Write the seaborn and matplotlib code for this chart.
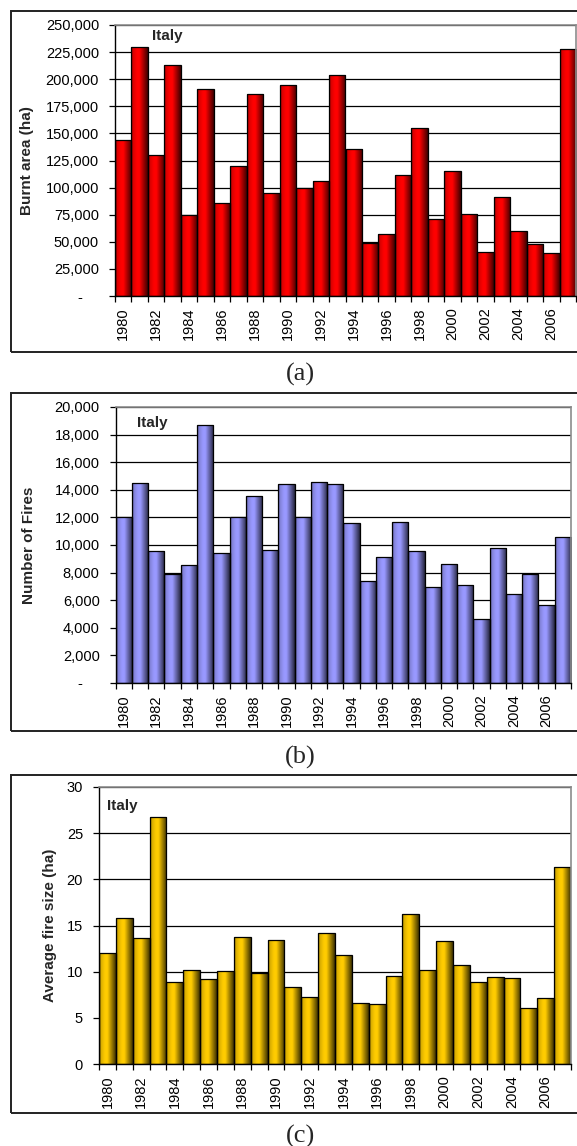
import numpy as np
import pandas as pd
import matplotlib
matplotlib.use("Agg")
import matplotlib.pyplot as plt
import matplotlib.ticker as mticker
from matplotlib.patches import Rectangle
from matplotlib.colors import to_rgb
import seaborn as sns

# ---------------- data ----------------
years = list(range(1980, 2008))
burnt_area = [144000, 229700, 130400, 212800, 74400, 190600, 85800, 120200,
              186000, 94700, 195000, 99600, 105800, 204200, 135900, 48900,
              57500, 111600, 155000, 71000, 115000, 75300, 40900, 91000,
              60000, 47700, 39700, 227900]
num_fires = [12000, 14500, 9570, 7930, 8530, 18670, 9420, 12000,
             13540, 9640, 14430, 12020, 14600, 14430, 11570, 7400,
             9130, 11660, 9570, 6960, 8630, 7130, 4650, 9760,
             6460, 7930, 5660, 10600]
avg_size = [12.06, 15.85, 13.6, 26.7, 8.93, 10.2, 9.18, 10.1,
            13.76, 9.83, 13.47, 8.39, 7.24, 14.15, 11.78, 6.66,
            6.45, 9.58, 16.24, 10.2, 13.36, 10.73, 8.9, 9.44,
            9.29, 6.05, 7.13, 21.36]
tick_years = [str(y) for y in years[::2]]

panels = [
    dict(values=burnt_area, color="#FF0000", ylabel="Burnt area (ha)",
         ymax=250000, ystep=25000, dash=True, tag="(a)",
         rect=[115/577, 1-296/1146, 461/577, 271/1146],
         frame=(11, 352), tagy=374, italy=(0.08, 0.96), labx=-0.19),
    dict(values=num_fires, color="#9999FF", ylabel="Number of Fires",
         ymax=20000, ystep=2000, dash=True, tag="(b)",
         rect=[115.7/577, 1-683/1146, 455.3/577, 276/1146],
         frame=(393, 731), tagy=757, italy=(0.047, 0.942), labx=-0.19),
    dict(values=avg_size, color="#FFCC00", ylabel="Average fire size (ha)",
         ymax=30, ystep=5, dash=False, tag="(c)",
         rect=[99/577, 1-1064/1146, 472/577, 277/1146],
         frame=(775, 1113), tagy=1136, italy=(0.017, 0.931), labx=-0.104),
]

sns.set_style("white")
plt.rcParams["font.family"] = ["Liberation Sans", "DejaVu Sans"]

W, H = 577, 1146
fig = plt.figure(figsize=(W/100, H/100), dpi=100)


def gradient_for(color):
    base = np.array(to_rgb(color))
    t = np.linspace(0, 1, 64)
    prof = np.interp(t, [0, 0.12, 0.35, 0.5, 0.8, 1.0],
                     [0.55, 0.85, 1.0, 1.0, 0.55, 0.25])
    img = np.clip(base[None, :] * prof[:, None], 0, 1)
    return img[None, :, :]


for p in panels:
    # outer frame
    top, bot = p["frame"]
    fig.patches.append(Rectangle((11/W, 1-bot/H), 1.2, (bot-top)/H,
                                 transform=fig.transFigure, fill=False,
                                 edgecolor="#222222", linewidth=1.4,
                                 zorder=0))
    ax = fig.add_axes(p["rect"])
    df = pd.DataFrame({"year": [str(y) for y in years], "value": p["values"]})
    sns.barplot(data=df, x="year", y="value", color=p["color"], saturation=1,
                width=1.0, edgecolor="black", linewidth=0.9, ax=ax)
    ax.set_xlim(-0.5, len(years)-0.5)
    ax.set_ylim(0, p["ymax"])

    grad = gradient_for(p["color"])
    for patch in list(ax.patches):
        x0, y0 = patch.get_x(), patch.get_y()
        w, h = patch.get_width(), patch.get_height()
        patch.set_facecolor("none")
        patch.set_zorder(1.2)
        im = ax.imshow(grad, extent=[x0, x0+w, y0, y0+h], aspect="auto",
                       interpolation="bilinear", zorder=1.0)
        im.set_clip_path(patch)
    ax.set_xlim(-0.5, len(years)-0.5)
    ax.set_ylim(0, p["ymax"])
    ax.set_aspect("auto")

    # y axis
    yt = np.arange(0, p["ymax"] + p["ystep"]/2, p["ystep"])
    ax.yaxis.set_major_locator(mticker.FixedLocator(yt))
    if p["dash"]:
        ax.yaxis.set_major_formatter(mticker.FuncFormatter(
            lambda v, pos: "-    " if v == 0 else f"{v:,.0f}"))
    else:
        ax.yaxis.set_major_formatter(mticker.FuncFormatter(
            lambda v, pos: f"{v:.0f}"))
    ax.grid(axis="y", color="black", linewidth=0.9)
    ax.set_axisbelow(True)

    # x axis: labels at bar centres, tick marks at boundaries
    ax.xaxis.set_major_locator(mticker.FixedLocator(np.arange(0, len(years), 2)))
    ax.set_xticklabels(tick_years, rotation=90)
    ax.xaxis.set_minor_locator(mticker.FixedLocator(np.arange(-0.5, len(years), 1)))
    ax.tick_params(axis="x", which="major", length=0, pad=8, labelsize=10.5,
                   colors="black")
    ax.tick_params(axis="x", which="minor", length=4, width=0.9,
                   direction="out", color="black", bottom=True)
    ax.tick_params(axis="y", which="major", length=4, width=0.9, pad=7.5,
                   direction="out", left=True, labelsize=10.5, colors="black")

    for side in ("left", "bottom"):
        ax.spines[side].set_color("black")
        ax.spines[side].set_linewidth(1.0)
    for side in ("top", "right"):
        ax.spines[side].set_color("#8c8c8c")
        ax.spines[side].set_linewidth(1.2)

    ax.set_xlabel("")
    ax.set_ylabel(p["ylabel"], fontsize=11, fontweight="bold", va="center")
    ax.yaxis.set_label_coords(p["labx"], 0.5)

    ax.text(p["italy"][0], p["italy"][1], "Italy", transform=ax.transAxes,
            fontsize=11, fontweight="bold", ha="left", va="center")

    fig.text(300/W, 1-p["tagy"]/H, p["tag"], ha="center", va="center",
             fontsize=19, family=["Liberation Serif", "DejaVu Serif"])

fig.savefig("out.png", dpi=100)
